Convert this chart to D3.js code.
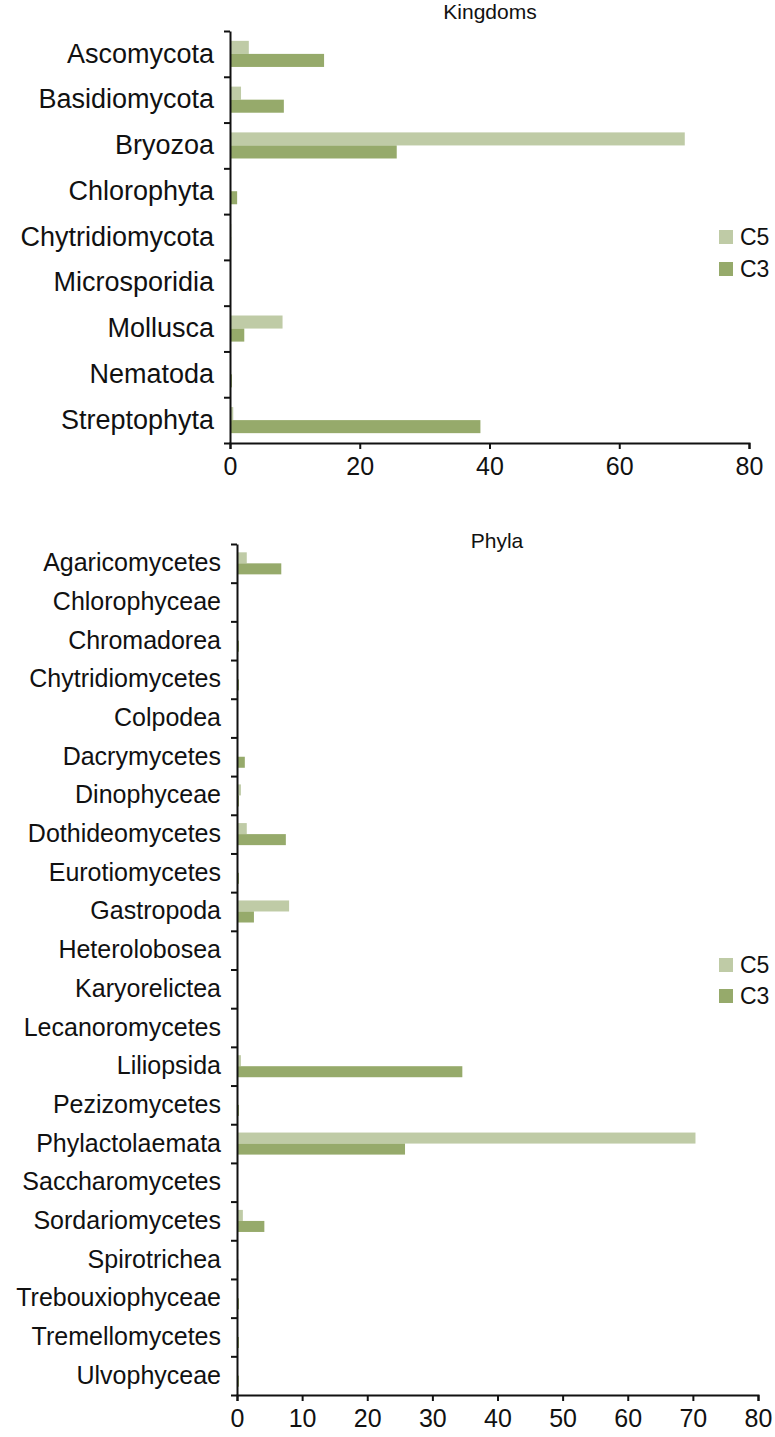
<!DOCTYPE html>
<html>
<head>
<meta charset="utf-8">
<script src="https://cdn.jsdelivr.net/npm/d3@7"></script>
<style>
  body { margin: 0; background: #fff; }
  text { font-family: "Liberation Sans", Arial, Helvetica, sans-serif; fill: #111; }
</style>
</head>
<body>
<div id="chart"></div>
<script>
// Data
const seriesNames = ['C5', 'C3'];
const seriesColors = ['#bfcba6', '#96aa6b'];
const xTicks = [0, 10, 20, 30, 40, 50, 60, 70, 80];

const kingdoms = ['Ascomycota', 'Basidiomycota', 'Bryozoa', 'Chlorophyta', 'Chytridiomycota',
  'Microsporidia', 'Mollusca', 'Nematoda', 'Streptophyta'];
const kingdomC5 = [2.9, 1.7, 70.1, 0.1, 0.2, 0, 8.1, 0.1, 0.5];
const kingdomC3 = [14.5, 8.3, 25.7, 1.1, 0.2, 0, 2.2, 0.3, 38.6];

const phyla = ['Agaricomycetes', 'Chlorophyceae', 'Chromadorea', 'Chytridiomycetes', 'Colpodea',
  'Dacrymycetes', 'Dinophyceae', 'Dothideomycetes', 'Eurotiomycetes', 'Gastropoda',
  'Heterolobosea', 'Karyorelictea', 'Lecanoromycetes', 'Liliopsida', 'Pezizomycetes',
  'Phylactolaemata', 'Saccharomycetes', 'Sordariomycetes', 'Spirotrichea',
  'Trebouxiophyceae', 'Tremellomycetes', 'Ulvophyceae'];
const phylaC5 = [1.5, 0, 0.1, 0.1, 0, 0.1, 0.6, 1.5, 0.1, 8.0, 0, 0, 0, 0.6, 0.1, 70.4, 0, 0.9, 0.1, 0.1, 0.1, 0.1];
const phylaC3 = [6.8, 0, 0.3, 0.3, 0, 1.2, 0.3, 7.5, 0.3, 2.6, 0, 0, 0, 34.6, 0.3, 25.8, 0, 4.2, 0.2, 0.3, 0.3, 0.3];

const w = 775, h = 1437;

const svg = d3.select('#chart')
  .append('svg')
  .attr('width', w)
  .attr('height', h);

// Draw one horizontal grouped bar panel
const drawPanel = (cfg) => {
  const g = svg.append('g');

  const xScale = d3.scaleLinear()
    .domain([0, 80])
    .range([cfg.left, cfg.right]);

  const yScale = d3.scaleBand()
    .domain(cfg.cats)
    .range([cfg.top, cfg.bottom])
    .padding(0);

  const step = yScale.step();
  const inner = d3.scaleBand()
    .domain(seriesNames)
    .range([step * 0.215, step * 0.785]);

  const values = [cfg.c5, cfg.c3];

  // bars
  seriesNames.forEach((s, si) => {
    g.selectAll('rect.s' + si)
      .data(cfg.cats)
      .enter()
      .append('rect')
      .attr('class', 's' + si)
      .attr('x', xScale(0))
      .attr('y', (d) => yScale(d) + inner(s))
      .attr('width', (d, i) => xScale(values[si][i]) - xScale(0))
      .attr('height', inner.bandwidth())
      .attr('fill', seriesColors[si]);
  });

  // x axis
  const xAxis = d3.axisBottom(xScale)
    .tickValues(cfg.xTicks)
    .tickSize(6)
    .tickSizeOuter(6)
    .tickPadding(8);

  const gx = g.append('g')
    .attr('transform', 'translate(0,' + cfg.bottom + ')')
    .call(xAxis);
  gx.select('.domain').attr('stroke', '#111').attr('stroke-width', 2);
  gx.selectAll('.tick line').attr('stroke', '#111').attr('stroke-width', 2);
  gx.selectAll('.tick text')
    .style('font-size', cfg.tickFont + 'px')
    .style('font-family', '"Liberation Sans", Arial, sans-serif')
    .attr('fill', '#111');

  // y axis: ticks at band boundaries
  const yBound = d3.scaleLinear()
    .domain([0, cfg.cats.length])
    .range([cfg.top, cfg.bottom]);
  const gy = g.append('g')
    .attr('transform', 'translate(' + cfg.left + ',0)')
    .call(d3.axisLeft(yBound)
      .tickValues(d3.range(cfg.cats.length + 1))
      .tickFormat('')
      .tickSize(6)
      .tickSizeOuter(0));
  gy.select('.domain').attr('stroke', '#111').attr('stroke-width', 2);
  gy.selectAll('.tick line').attr('stroke', '#111').attr('stroke-width', 2);

  // category labels
  const gl = g.append('g')
    .attr('transform', 'translate(' + cfg.left + ',0)')
    .call(d3.axisLeft(yScale).tickSize(0).tickPadding(cfg.labelPad));
  gl.select('.domain').remove();
  gl.selectAll('.tick text')
    .style('font-size', cfg.labelFont + 'px')
    .style('font-family', '"Liberation Sans", Arial, sans-serif')
    .attr('fill', '#111');

  // title
  g.append('text')
    .attr('x', cfg.titleX)
    .attr('y', cfg.titleY)
    .attr('text-anchor', 'middle')
    .style('font-size', '21px')
    .text(cfg.title);

  // legend
  const leg = g.append('g')
    .attr('transform', 'translate(' + cfg.legX + ',' + cfg.legY + ')');
  seriesNames.forEach((s, si) => {
    leg.append('rect')
      .attr('x', 0)
      .attr('y', si * cfg.legStep - 7)
      .attr('width', 14)
      .attr('height', 14)
      .attr('fill', seriesColors[si]);
    leg.append('text')
      .attr('x', 21)
      .attr('y', si * cfg.legStep)
      .attr('dy', '0.36em')
      .style('font-size', '23px')
      .text(s);
  });
};

drawPanel({
  cats: kingdoms, c5: kingdomC5, c3: kingdomC3,
  left: 230, right: 749, top: 31, bottom: 443,
  xTicks: [0, 20, 40, 60, 80],
  tickFont: 25, labelFont: 27, labelPad: 16,
  title: 'Kingdoms', titleX: 490, titleY: 19,
  legX: 719, legY: 237, legStep: 32
});

drawPanel({
  cats: phyla, c5: phylaC5, c3: phylaC3,
  left: 237, right: 758, top: 544, bottom: 1395,
  xTicks: xTicks,
  tickFont: 25, labelFont: 25, labelPad: 16,
  title: 'Phyla', titleX: 497, titleY: 548,
  legX: 719, legY: 965, legStep: 31
});
</script>
</body>
</html>
